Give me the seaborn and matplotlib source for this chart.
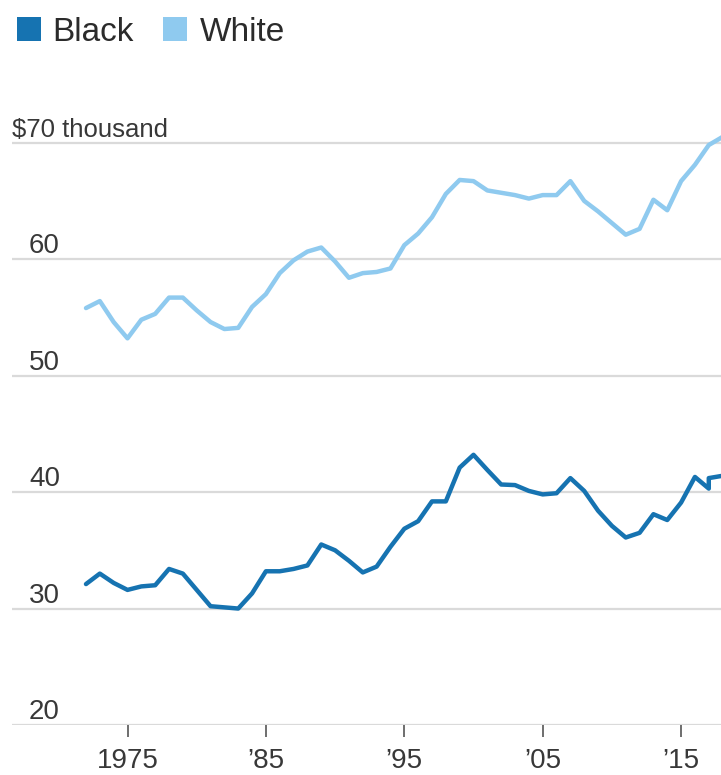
import matplotlib
matplotlib.use("Agg")
import matplotlib.pyplot as plt
from matplotlib.patches import Rectangle
import pandas as pd
import seaborn as sns

# Median household income, thousands of dollars
years_white = list(range(1972, 2019))
income_white = [
    55.8, 56.4, 54.6, 53.2, 54.8, 55.3, 56.7, 56.7, 55.6, 54.6,
    54.0, 54.1, 55.9, 57.0, 58.8, 59.9, 60.65, 61.0, 59.8, 58.4,
    58.8, 58.9, 59.2, 61.2, 62.2, 63.6, 65.6, 66.8, 66.7, 65.9,
    65.7, 65.5, 65.2, 65.5, 65.5, 66.7, 65.0, 64.1, 63.1, 62.1,
    62.6, 65.1, 64.2, 66.7, 68.1, 69.8, 70.5,
]

# 2017 appears twice: the original and the revised estimate
years_black = list(range(1972, 2018)) + [2017, 2018]
income_black = [
    32.1, 33.0, 32.2, 31.6, 31.9, 32.0, 33.4, 33.0, 31.6, 30.2,
    30.1, 30.0, 31.3, 33.2, 33.2, 33.4, 33.7, 35.5, 35.0, 34.1,
    33.1, 33.6, 35.3, 36.85, 37.5, 39.2, 39.2, 42.1, 43.2, 41.9,
    40.65, 40.6, 40.1, 39.8, 39.9, 41.2, 40.1, 38.4, 37.1, 36.1,
    36.5, 38.1, 37.6, 39.1, 41.3, 40.3, 41.2, 41.4,
]

series_names = ["Black", "White"]
series_colors = ["#1673b1", "#8fcaef"]
grid_values = [20, 30, 40, 50, 60, 70]
grid_labels = ["20", "30", "40", "50", "60", "$70 thousand"]
tick_years = [1975, 1985, 1995, 2005, 2015]
tick_labels = ["1975", "\u201985", "\u201995", "\u201905", "\u201915"]

sns.set_theme(style="white")
plt.rcParams["font.family"] = ["Liberation Sans", "DejaVu Sans"]

TEXT = "#383838"
W, H = 721, 775
fig = plt.figure(figsize=(W / 100, H / 100), dpi=100)
fig.patch.set_facecolor("white")

px_per_year = 13.84
ax = fig.add_axes([12 / W, 50 / H, 709 / W, 605.6 / H])
ax.set_facecolor("white")

df = pd.concat([
    pd.DataFrame({"year": years_black, "income": income_black, "race": "Black"}),
    pd.DataFrame({"year": years_white, "income": income_white, "race": "White"}),
], ignore_index=True)

for v in grid_values:
    ax.axhline(v, color="#dadada", lw=1.6, zorder=0)

sns.lineplot(
    data=df, x="year", y="income", hue="race", hue_order=series_names,
    palette=dict(zip(series_names, series_colors)), estimator=None, sort=False,
    linewidth=3.2, legend=False, ax=ax,
)
for line in ax.get_lines():
    line.set_solid_joinstyle("round")
    line.set_solid_capstyle("round")

x_left = 1975 - (127.5 - 12) / px_per_year
ax.set_xlim(x_left, x_left + 709 / px_per_year)
ax.set_ylim(20, 72)
for sp in ax.spines.values():
    sp.set_visible(False)
ax.grid(False)
ax.set_yticks([])
ax.set_xticks(tick_years, tick_labels)
ax.tick_params(axis="x", bottom=True, length=8.5, width=1.2, color="#555555",
               direction="out", pad=8, labelsize=20, labelcolor=TEXT)
ax.set_xlabel("")
ax.set_ylabel("")

# value labels sit just above their gridlines
ytrans = ax.get_yaxis_transform()
for v, lab in zip(grid_values, grid_labels):
    if lab.startswith("$"):
        x, size = 0.0, 18.5
    else:
        x, size = 17 / 709, 20
    ax.text(x, v + 0.5, lab, transform=ytrans, ha="left", va="baseline",
            fontsize=size, color=TEXT, clip_on=False)

# legend: colour squares with names
legend_items = [(17, 52), (163, 200)]
for (sx, tx), name, col in zip(legend_items, series_names, series_colors):
    fig.add_artist(Rectangle((sx / W, (H - 41) / H), 24 / W, 24 / H,
                             transform=fig.transFigure, facecolor=col,
                             edgecolor="none"))
    fig.text(tx / W, (H - 41) / H, name, ha="left", va="baseline",
             fontsize=24, color="#2b2b2b")

fig.savefig("out.png", dpi=100, facecolor="white")
